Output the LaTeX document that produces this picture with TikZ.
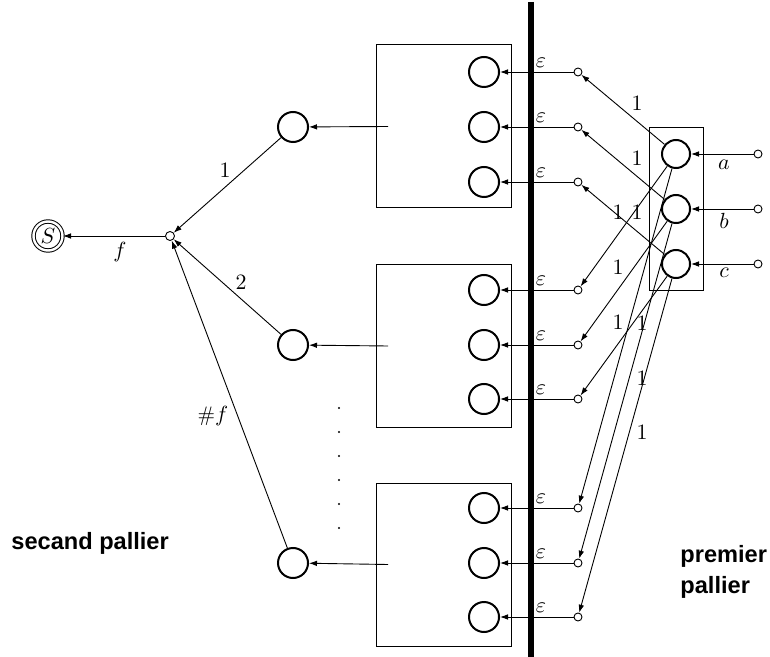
\documentclass[tikz,border=0pt]{standalone}
\usepackage{fontspec}
\newfontfamily\tagfont{Liberation Sans}
\usetikzlibrary{arrows.meta}
\tikzset{
  bigcirc/.style={circle,draw,line width=1pt,minimum size=15pt,inner sep=0pt},
  port/.style={circle,draw,line width=0.45pt,minimum size=4pt,inner sep=0pt,fill=white},
  frame/.style={draw,line width=0.5pt,minimum width=67.5pt,minimum height=81.5pt,inner sep=0pt},
  wire/.style={line width=0.45pt,-{Latex[length=4pt,width=2.8pt]}},
  lbl/.style={font=\fontsize{10.5}{12}\selectfont,inner sep=0pt},
  tag/.style={font=\tagfont\bfseries\fontsize{11.8}{15.5}\selectfont,inner sep=0pt,align=left}
}
\begin{document}
\begin{tikzpicture}[x=0.5pt,y=-0.5pt]
\useasboundingbox (0,0) rectangle (770,657);

% second layer: output state and junction
\node[circle,draw,double,double distance=1.2pt,line width=0.5pt,minimum size=14.5pt,inner sep=0pt] (S) at (48,236) {\fontsize{10.5}{12}\selectfont$S$};
\node[port,minimum size=4.5pt] (J) at (170,236) {};
\node[bigcirc] (L1) at (293,127) {};
\node[bigcirc] (L2) at (293,345) {};
\node[bigcirc] (L3) at (293,563) {};

\draw[wire] (J) -- (S);
\draw[wire] (L1) -- (J);
\draw[wire] (L2) -- (J);
\draw[wire] (L3) -- (J);
\node[lbl] (lf) at (120,252) {$f$};
\node[lbl] (l1) at (225,170) {$1$};
\node[lbl] (l2) at (241,282) {$2$};
\node[lbl] (lnf) at (213,416) {$\#f$};

% vertical dots between the second and third groups
\foreach \yy in {408,432,456,480,504,528}
  \fill (339,\yy) circle (0.6pt);

% the three groups
\foreach \g/\cy/\ya/\yb/\yc in {1/126.5/72/127/182, 2/346/290/345/399, 3/564.5/508/563/617} {
  \node[frame] (B\g) at (443.5,\cy) {};
  \coordinate (E\g) at (388,\cy);
  \node[bigcirc] (C\g a) at (484,\ya) {};
  \node[bigcirc] (C\g b) at (484,\yb) {};
  \node[bigcirc] (C\g c) at (484,\yc) {};
  \node[port] (P\g a) at (578,\ya) {};
  \node[port] (P\g b) at (578,\yb) {};
  \node[port] (P\g c) at (578,\yc) {};
  \foreach \k in {a,b,c} {
    \draw[wire] (P\g\k) -- (C\g\k);
  }
  \node[lbl] (ea\g) at (541,\ya-9) {$\varepsilon$};
  \node[lbl] (eb\g) at (541,\yb-9) {$\varepsilon$};
  \node[lbl] (ec\g) at (541,\yc-9) {$\varepsilon$};
}
\draw[wire] (E1) -- (L1);
\draw[wire] (E2) -- (L2);
\draw[wire] (E3) -- (L3);

% separating bar
\draw[line width=2.7pt] (531,2) -- (531,657);

% first layer
\node[draw,line width=0.5pt,minimum width=27pt,minimum height=81.5pt,inner sep=0pt] (R) at (676,209.5) {};
\node[bigcirc,minimum size=14pt] (A) at (676,154) {};
\node[bigcirc,minimum size=14pt] (Bq) at (676,209) {};
\node[bigcirc,minimum size=14pt] (Cq) at (676,264) {};
\node[port] (Ia) at (758,154) {};
\node[port] (Ib) at (758,209) {};
\node[port] (Ic) at (758,264) {};
\draw[wire] (Ia) -- (A);
\draw[wire] (Ib) -- (Bq);
\draw[wire] (Ic) -- (Cq);
\node[lbl] (ta) at (724,165) {$a$};
\node[lbl] (tb) at (724,221) {$b$};
\node[lbl] (tc) at (724,273) {$c$};

\foreach \g in {1,2,3} {
  \draw[wire] (A) -- (P\g a);
  \draw[wire] (Bq) -- (P\g b);
  \draw[wire] (Cq) -- (P\g c);
}
\node[lbl] (w1) at (637,103) {$1$};
\node[lbl] (w2) at (637,158) {$1$};
\node[lbl] (w3) at (618,212) {$1$};
\node[lbl] (w4) at (637,212) {$1$};
\node[lbl] (w5) at (618,267) {$1$};
\node[lbl] (w6) at (618,322) {$1$};
\node[lbl] (w7) at (642,323) {$1$};
\node[lbl] (w8) at (642,378) {$1$};
\node[lbl] (w9) at (642,432) {$1$};

% layer captions
\node[tag,anchor=west] (sec) at (11,543) {secand pallier};
\node[tag,anchor=west] (prem) at (680,572) {premier\\pallier};
\end{tikzpicture}
\end{document}
